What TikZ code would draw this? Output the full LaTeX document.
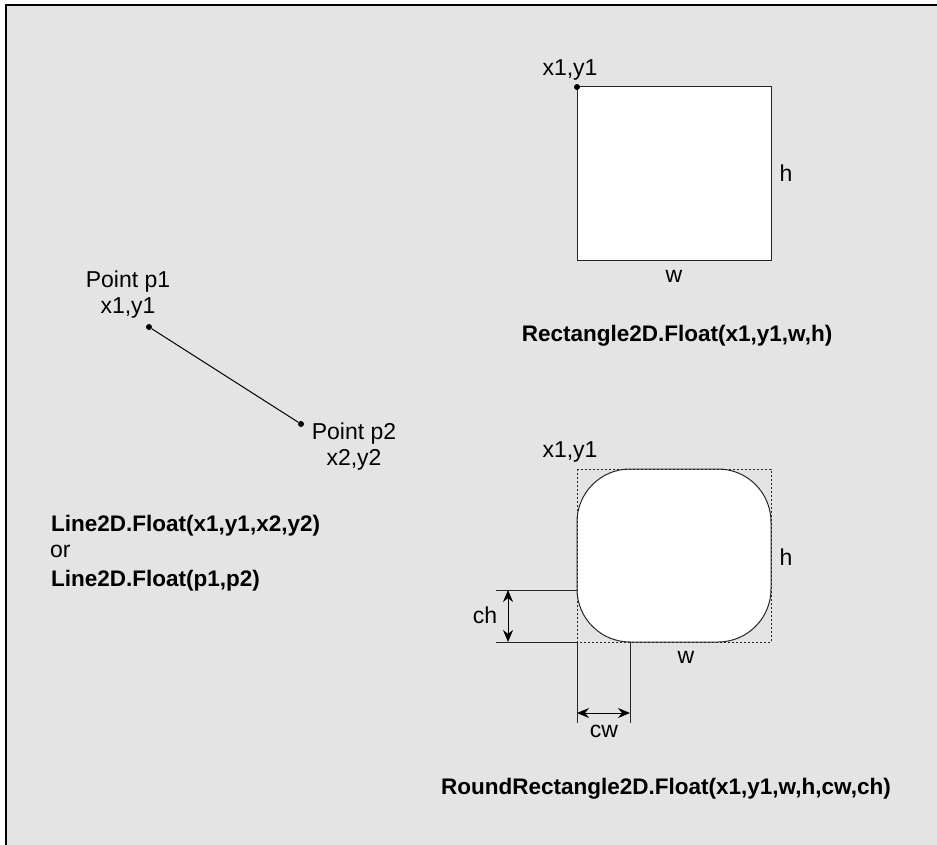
\documentclass[tikz,border=0pt]{standalone}
\usepackage{fontspec}
\setmainfont{Liberation Sans}
\usetikzlibrary{arrows.meta}
\definecolor{bg}{HTML}{E4E4E4}
\begin{document}
\begin{tikzpicture}[x=1pt,y=-1pt,
  lbl/.style={inner sep=0pt,anchor=base,font=\fontsize{23}{26}\selectfont},
  blbl/.style={inner sep=0pt,anchor=base,font=\fontsize{22.5}{26}\selectfont\bfseries},
  boxshape/.style={draw=black!85,line width=1pt,fill=white},
  dot/.style={circle,fill=black,inner sep=0pt,minimum size=6pt},
  dim/.style={draw=black!85,line width=1pt},
  dimarrow/.style={draw=black,line width=1pt,{Stealth[length=12pt,width=10pt]}-{Stealth[length=12pt,width=10pt]}}]
\useasboundingbox (0,0) rectangle (937,845);
\fill[white] (0,0) rectangle (937,845);
\fill[bg] (6,5) rectangle (937,845);
\draw[line width=1.5pt] (6,845) -- (6,5) -- (937,5);

% Line
\node[dot] (p1) at (149,327) {};
\node[dot] (p2) at (301,424) {};
\draw[line width=1pt] (p1) -- (p2);
\node[lbl] (tp1) at (128,287) {Point p1};
\node[lbl] (tx1) at (128,313) {x1,y1};
\node[lbl] (tp2) at (354,439) {Point p2};
\node[lbl] (tx2) at (354,465) {x2,y2};
\node[blbl,anchor=base west] (l1) at (51,531) {Line2D.Float(x1,y1,x2,y2)};
\node[lbl,anchor=base west] (l2) at (50,557) {or};
\node[blbl,anchor=base west] (l3) at (51,586) {Line2D.Float(p1,p2)};

% Rectangle
\draw[boxshape] (577,87) rectangle (771,260);
\node[dot] (r1) at (577,87) {};
\node[lbl] (rx) at (570,76) {x1,y1};
\node[lbl] (rh) at (786,182) {h};
\node[lbl] (rw) at (674,282) {w};
\node[blbl] (rt) at (677,341) {Rectangle2D.Float(x1,y1,w,h)};

% Round rectangle
\draw[boxshape,rounded corners=53pt] (577,469) rectangle (771,642);
\draw[black!85,line width=0.9pt,dash pattern=on 2pt off 2pt] (577,469) rectangle (771,642);
\coordinate (a1) at (496,590);
\coordinate (a2) at (577,590);
\coordinate (b1) at (496,642);
\coordinate (b2) at (577,642);
\draw[dim] (a1) -- (a2);
\draw[dim] (b1) -- (b2);
\coordinate (chT) at (508,590);
\coordinate (chB) at (508,642);
\draw[dimarrow] (chT) -- (chB);
\coordinate (c1) at (577,642);
\coordinate (c2) at (577,723);
\coordinate (d1) at (630,642);
\coordinate (d2) at (630,723);
\draw[dim] (c1) -- (c2);
\draw[dim] (d1) -- (d2);
\coordinate (cwL) at (577,713);
\coordinate (cwR) at (630,713);
\draw[dimarrow] (cwL) -- (cwR);
\node[lbl] (qx) at (570,457) {x1,y1};
\node[lbl] (qh) at (786,565) {h};
\node[lbl] (qw) at (686,663) {w};
\node[lbl] (qch) at (485,623) {ch};
\node[lbl] (qcw) at (604,737) {cw};
\node[blbl] (qt) at (666,794) {RoundRectangle2D.Float(x1,y1,w,h,cw,ch)};
\end{tikzpicture}
\end{document}
